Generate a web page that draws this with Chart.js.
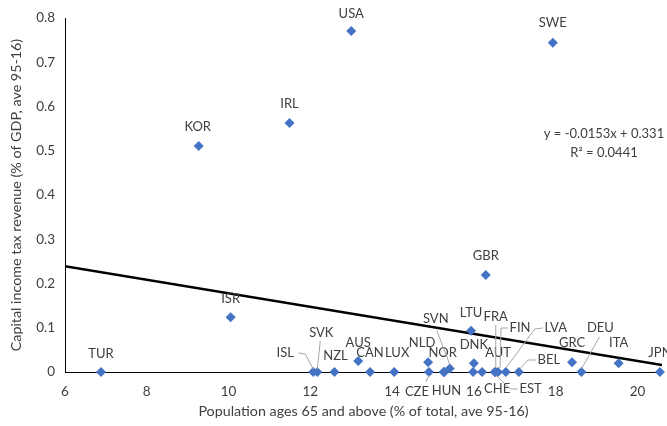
<!DOCTYPE html>
<html>
<head>
<meta charset="utf-8">
<script src="https://cdn.jsdelivr.net/npm/chart.js@4.4.1/dist/chart.umd.min.js"></script>
<style>
  html, body { margin: 0; padding: 0; background: #fff; }
  canvas { display: block; }
</style>
</head>
<body>
<canvas id="chart" width="667" height="426"></canvas>
<script>
// Country codes and values
const countries = ['TUR', 'ISR', 'KOR', 'IRL', 'USA', 'SWE', 'GBR', 'LTU', 'ISL', 'SVK', 'NZL',
    'AUS', 'CAN', 'LUX', 'NLD', 'CZE', 'NOR', 'HUN', 'SVN', 'DNK', 'CHE', 'AUT', 'FRA', 'EST',
    'FIN', 'LVA', 'BEL', 'GRC', 'DEU', 'ITA', 'JPN'];
// Population ages 65 and above (% of total, ave 95-16)
const elderly = [6.88, 10.05, 9.27, 11.49, 13.0, 17.93, 16.29, 15.93, 12.07, 12.17, 12.59,
    13.17, 13.46, 14.05, 14.88, 14.9, 15.26, 15.28, 15.41, 16.0, 15.98, 16.2, 16.51, 16.53,
    16.59, 16.78, 17.1, 18.4, 18.63, 19.54, 20.55];
// Capital income tax revenue (% of GDP, ave 95-16)
const capTax = [0, 0.124, 0.511, 0.563, 0.771, 0.744, 0.219, 0.093, 0, 0, 0,
    0.025, 0, 0, 0.022, 0, 0, 0, 0.008, 0.02, 0, 0, 0, 0,
    0, 0, 0, 0.022, 0, 0.02, 0];

// Linear trendline ends, as drawn
const trendX = [6, 20.6];
const trendY = [0.239, 0.016];

const xTicks = [6, 8, 10, 12, 14, 16, 18, 20];
const yTicks = [0, 0.1, 0.2, 0.3, 0.4, 0.5, 0.6, 0.7, 0.8];

// Label placement (pixel offset of label centre from marker, optional leader path)
const labelPos = {
    TUR: [0, -18], ISR: [0, -18], KOR: [-1, -19], IRL: [0, -19], USA: [0, -17], SWE: [0, -20],
    GBR: [0, -19], LTU: [0, -18], NZL: [1, -16], AUS: [0, -18], CAN: [0, -19], LUX: [3, -19],
    NLD: [-6, -19], NOR: [-1, -19], HUN: [2, 19], DNK: [0, -18], CHE: [24, 17], AUT: [16, -19],
    GRC: [0, -19], ITA: [0, -20], JPN: [0, -19],
    ISL: [-28, -19, [[-15, -19], [-8, -18], [0, -3]]],
    SVK: [4, -39, [[3, -31], [0, -3]]],
    CZE: [-12, 20, [[-3, 10], [0, 3]]],
    SVN: [-14, -50, [[-13, -38], [0, -4]]],
    FRA: [1, -55, [[1, -47], [1, -4]]],
    EST: [35, 17, [[22, 17], [15, 17], [0, 3]]],
    FIN: [22, -44, [[10, -44], [3, -44], [2, -4]]],
    LVA: [50, -44, [[37, -44], [29, -43], [0, -4]]],
    BEL: [30, -12, [[17, -12], [9, -12], [1, -3]]],
    DEU: [19, -44, [[18, -35], [0, -3]]]
};

const textColor = '#404040';
const font = 'Lato, "Noto Sans", sans-serif';

const pointLabels = {
    id: 'pointLabels',
    afterDatasetsDraw(chart) {
        const ctx = chart.ctx;
        const meta = chart.getDatasetMeta(0);
        ctx.save();
        ctx.font = '13px ' + font;
        ctx.textAlign = 'center';
        ctx.textBaseline = 'middle';
        meta.data.forEach((pt, i) => {
            const pos = labelPos[countries[i]] || [0, -19];
            if (pos[2]) {
                ctx.strokeStyle = '#a6a6a6';
                ctx.lineWidth = 1;
                ctx.beginPath();
                pos[2].forEach((p, j) => {
                    if (j === 0) ctx.moveTo(pt.x + p[0], pt.y + p[1]);
                    else ctx.lineTo(pt.x + p[0], pt.y + p[1]);
                });
                ctx.stroke();
            }
            ctx.fillStyle = textColor;
            ctx.fillText(countries[i], pt.x + pos[0], pt.y + pos[1]);
        });

        // trendline equation
        ctx.font = '13px ' + font;
        ctx.fillText('y = -0.0153x + 0.331', 604, 134);
        ctx.fillText('R² = 0.0441', 604, 153);
        ctx.restore();
    }
};

const ctx = document.getElementById('chart').getContext('2d');
new Chart(ctx, {
    type: 'scatter',
    data: {
        datasets: [{
            label: 'Countries',
            data: elderly.map((x, i) => ({ x: x, y: capTax[i] })),
            pointStyle: 'rectRot',
            pointRadius: 5,
            pointHoverRadius: 5,
            backgroundColor: '#4472c4',
            borderColor: '#4472c4',
            borderWidth: 0,
            clip: false
        }, {
            label: 'Trend',
            type: 'line',
            data: trendX.map((x, i) => ({ x: x, y: trendY[i] })),
            borderColor: '#000',
            borderWidth: 2.5,
            pointRadius: 0,
            fill: false
        }]
    },
    options: {
        responsive: false,
        animation: false,
        devicePixelRatio: 1,
        layout: { padding: { top: 18, right: 3, left: 0, bottom: 0 } },
        plugins: {
            legend: { display: false },
            tooltip: { enabled: false }
        },
        scales: {
            x: {
                type: 'linear',
                min: 6,
                max: 20.6,
                afterBuildTicks: scale => { scale.ticks = xTicks.map(v => ({ value: v })); },
                afterFit: scale => { scale.height = 54; },
                grid: { display: false, drawTicks: false },
                border: { display: true, color: '#000', width: 1 },
                ticks: { color: textColor, font: { family: font, size: 13.5 }, padding: 12 },
                title: {
                    display: true,
                    text: 'Population ages 65 and above (% of total, ave 95-16)',
                    color: textColor,
                    font: { family: font, size: 14.3 },
                    padding: { top: 0, bottom: 6 }
                }
            },
            y: {
                min: 0,
                max: 0.8,
                afterBuildTicks: scale => { scale.ticks = yTicks.map(v => ({ value: v })); },
                afterFit: scale => { scale.width = 65; },
                grid: { display: false, drawTicks: false },
                border: { display: true, color: '#000', width: 1 },
                ticks: {
                    color: textColor,
                    font: { family: font, size: 13.5 },
                    padding: 10,
                    callback: v => (v === 0 ? '0' : v.toFixed(1))
                },
                title: {
                    display: true,
                    text: 'Capital income tax revenue (% of GDP, ave 95-16)',
                    color: textColor,
                    font: { family: font, size: 14.3 },
                    padding: { top: 8, bottom: 0 }
                }
            }
        }
    },
    plugins: [pointLabels]
});
</script>
</body>
</html>
